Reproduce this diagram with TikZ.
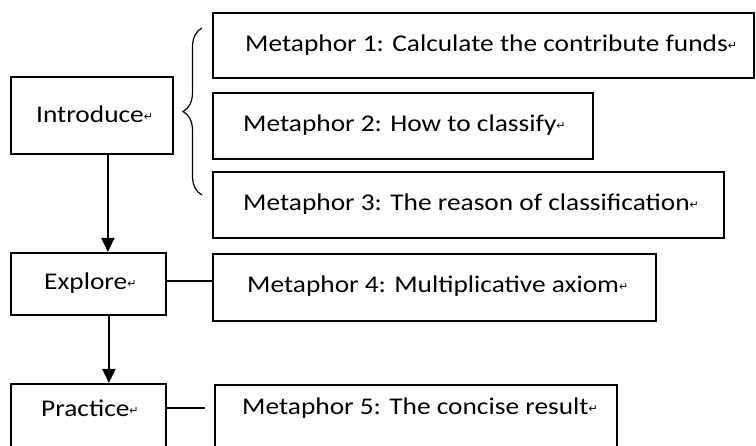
\documentclass[tikz,border=0pt]{standalone}
\usepackage{fontspec}
\setmainfont{Carlito}[FakeStretch=1.14]
\newfontfamily\markfont{DejaVu Sans}
\usetikzlibrary{arrows.meta,decorations.pathreplacing}
\newcommand{\parmark}{{\markfont\fontsize{11}{11}\selectfont\raisebox{2pt}{↵}}}
\begin{document}
\begin{tikzpicture}[x=1pt,y=1pt,
  box/.style={draw,line width=1.8pt,inner sep=0pt,anchor=north west},
  lbl/.style={inner sep=0pt,anchor=west,font=\fontsize{24}{24}\selectfont},
  conn/.style={line width=1.7pt},
  arr/.style={line width=1.7pt,-{Triangle[length=14pt,width=13pt]}}]
\useasboundingbox (0,0) rectangle (756,446);
% left column
\node[box,minimum width=162pt,minimum height=77pt] (intro) at (10,370) {};
\node[lbl] (introT) at (36,331.5) {Introduce\parmark};
\node[box,minimum width=155pt,minimum height=62pt] (explore) at (10,194) {};
\node[lbl] (exploreT) at (44,163) {Explore\parmark};
\node[box,minimum width=155pt,minimum height=63pt] (practice) at (10,63) {};
\node[lbl] (practiceT) at (41,38) {Practice\parmark};
% right column
\node[box,minimum width=541pt,minimum height=65pt] (m1) at (212,434) {};
\node[lbl] (m1T) at (245,401) {Metaphor 1: Calculate the contribute funds\parmark};
\node[box,minimum width=380pt,minimum height=66pt] (m2) at (212,354) {};
\node[lbl] (m2T) at (243,321) {Metaphor 2: How to classify\parmark};
\node[box,minimum width=511pt,minimum height=66pt] (m3) at (212,275) {};
\node[lbl] (m3T) at (243,242) {Metaphor 3: The reason of classification\parmark};
\node[box,minimum width=443pt,minimum height=67pt] (m4) at (212,193) {};
\node[lbl] (m4T) at (247,160) {Metaphor 4: Multiplicative axiom\parmark};
\node[box,minimum width=402pt,minimum height=64pt] (m5) at (214,62) {};
\node[lbl] (m5T) at (242,38) {Metaphor 5: The concise result\parmark};
% brace
\coordinate (bb) at (202,251);
\coordinate (bt) at (202,418);
\draw[line width=1.2pt,decorate,decoration={brace,amplitude=19pt}] (bb) -- (bt);
% connectors
\draw[arr] ([xshift=16pt]intro.south) -- ([xshift=16pt]intro.south |- explore.north);
\draw[arr] ([xshift=20.5pt]explore.south) -- ([xshift=20.5pt]explore.south |- practice.north);
\draw[conn] (explore.east |- 0,165) -- (m4.west |- 0,165);
\draw[conn] (practice.east |- 0,38) -- ([xshift=-9pt]m5.west |- 0,38);
\end{tikzpicture}
\end{document}
